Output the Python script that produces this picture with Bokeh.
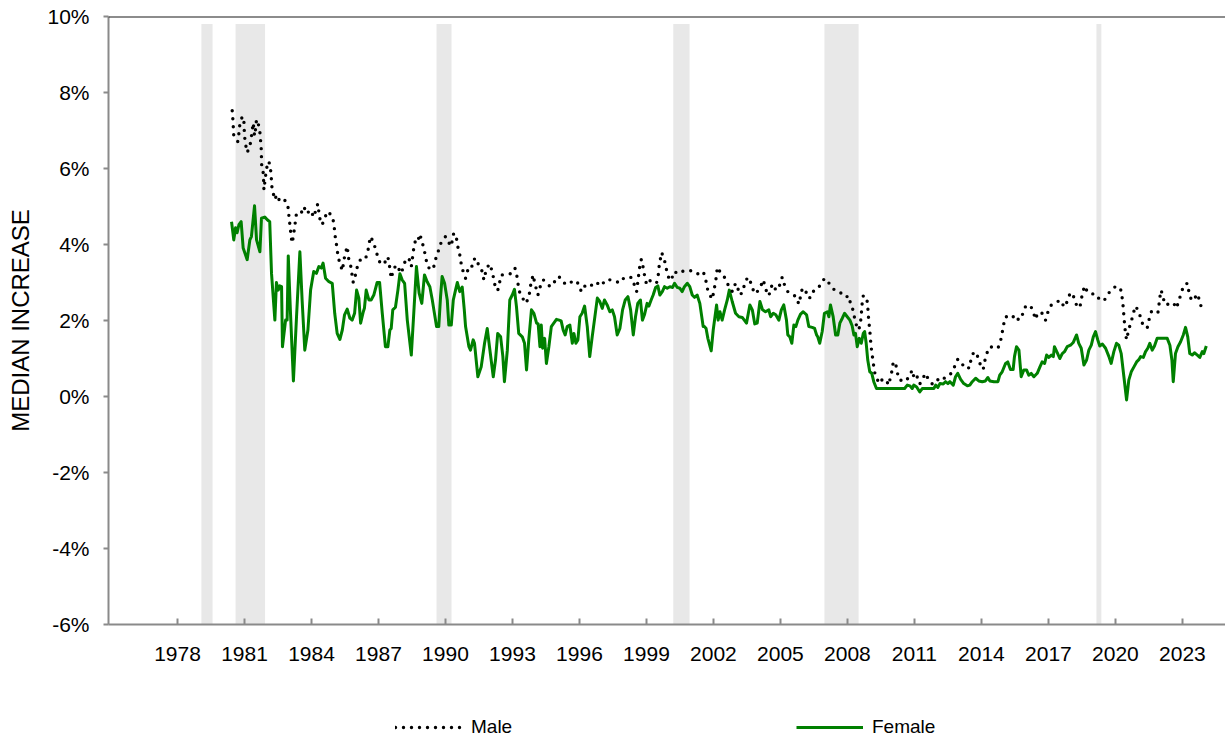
from bokeh.plotting import figure
from bokeh.layouts import column
from bokeh.models import (Legend, LegendItem, FixedTicker, PrintfTickFormatter, Span, Range1d)
from bokeh.embed import file_html
from bokeh.resources import INLINE

# ---- data ----
year_ticks = [1978, 1981, 1984, 1987, 1990, 1993, 1996, 1999, 2002, 2005, 2008, 2011, 2014, 2017, 2020, 2023]
pct_ticks = [-6, -4, -2, 0, 2, 4, 6, 8, 10]

rec_start = [1979.07, 1980.60, 1989.60, 2000.20, 2006.97, 2019.15]
rec_end = [1979.57, 1981.92, 1990.27, 2000.93, 2008.50, 2019.37]

male_year = [1980.45, 1980.48, 1980.52, 1980.70, 1980.75, 1980.79, 1980.90, 1980.97, 1981.00, 1981.05,
             1981.12, 1981.24, 1981.30, 1981.35, 1981.39, 1981.45, 1981.49, 1981.54, 1981.61, 1981.69,
             1981.72, 1981.75, 1981.76, 1981.77, 1981.84, 1981.86, 1981.87, 1981.94, 1981.99, 1982.09,
             1982.16, 1982.20, 1982.21, 1982.29, 1982.34, 1982.46, 1982.58, 1982.76, 1982.88, 1982.98,
             1982.99, 1983.06, 1983.07, 1983.14, 1983.24, 1983.33, 1983.54, 1983.66, 1983.78, 1983.96,
             1984.10, 1984.28, 1984.37, 1984.48, 1984.58, 1984.73, 1984.93, 1985.00, 1985.08, 1985.15,
             1985.18, 1985.27, 1985.38, 1985.48, 1985.60, 1985.67, 1985.75, 1985.87, 1985.97, 1986.07,
             1986.20, 1986.37, 1986.50, 1986.57, 1986.64, 1986.79, 1986.87, 1986.97, 1987.09, 1987.27,
             1987.42, 1987.51, 1987.57, 1987.69, 1987.84, 1987.99, 1988.11, 1988.21, 1988.36, 1988.47,
             1988.58, 1988.66, 1988.76, 1988.85, 1988.96, 1989.03, 1989.11, 1989.18, 1989.30, 1989.45,
             1989.55, 1989.66, 1989.78, 1989.90, 1990.00, 1990.08, 1990.23, 1990.30, 1990.37, 1990.49,
             1990.55, 1990.64, 1990.70, 1990.79, 1990.90, 1991.00, 1991.15, 1991.24, 1991.39, 1991.49,
             1991.65, 1991.72, 1991.84, 1991.99, 1992.09, 1992.17, 1992.24, 1992.34, 1992.43, 1992.50,
             1992.69, 1992.91, 1993.11, 1993.18, 1993.24, 1993.28, 1993.44, 1993.58, 1993.73, 1993.78,
             1993.84, 1993.93, 1993.99, 1994.08, 1994.14, 1994.23, 1994.38, 1994.52, 1994.70, 1994.88,
             1995.00, 1995.08, 1995.27, 1995.48, 1995.72, 1995.90, 1996.02, 1996.12, 1996.27, 1996.50,
             1996.72, 1996.97, 1997.17, 1997.39, 1997.57, 1997.76, 1997.91, 1998.06, 1998.29, 1998.41,
             1998.47, 1998.56, 1998.61, 1998.66, 1998.70, 1998.77, 1998.86, 1998.91, 1999.00, 1999.11,
             1999.26, 1999.45, 1999.53, 1999.57, 1999.63, 1999.68, 1999.81, 1999.90, 1999.99, 2000.11,
             2000.23, 2000.45, 2000.67, 2000.90, 2001.08, 2001.30, 2001.54, 2001.65, 2001.72, 2001.84,
             2001.95, 2002.02, 2002.09, 2002.14, 2002.17, 2002.32, 2002.44, 2002.59, 2002.73, 2002.85,
             2002.99, 2003.09, 2003.18, 2003.33, 2003.39, 2003.54, 2003.63, 2003.74, 2003.88, 2004.08,
             2004.23, 2004.29, 2004.38, 2004.48, 2004.59, 2004.68, 2004.79, 2004.93, 2005.00, 2005.08,
             2005.18, 2005.33, 2005.53, 2005.72, 2005.82, 2005.90, 2005.98, 2006.12, 2006.23, 2006.38,
             2006.50, 2006.67, 2006.83, 2006.97, 2007.21, 2007.42, 2007.69, 2007.91, 2008.06, 2008.14,
             2008.26, 2008.32, 2008.41, 2008.51, 2008.59, 2008.63, 2008.66, 2008.71, 2008.86, 2008.91,
             2008.93, 2008.96, 2009.00, 2009.03, 2009.06, 2009.11, 2009.16, 2009.21, 2009.33, 2009.45,
             2009.56, 2009.71, 2009.85, 2009.93, 2010.01, 2010.05, 2010.15, 2010.23, 2010.30, 2010.56,
             2010.75, 2010.90, 2011.00, 2011.12, 2011.24, 2011.35, 2011.50, 2011.64, 2011.80, 2011.95,
             2012.11, 2012.29, 2012.47, 2012.59, 2012.84, 2012.94, 2013.14, 2013.33, 2013.44, 2013.54,
             2013.66, 2013.81, 2013.93, 2014.08, 2014.14, 2014.23, 2014.38, 2014.56, 2014.74, 2014.86,
             2014.93, 2015.00, 2015.08, 2015.23, 2015.38, 2015.48, 2015.68, 2015.87, 2015.98, 2016.12,
             2016.23, 2016.32, 2016.42, 2016.53, 2016.65, 2016.77, 2016.87, 2016.97, 2017.13, 2017.36,
             2017.51, 2017.72, 2017.84, 2017.96, 2018.06, 2018.17, 2018.29, 2018.41, 2018.52, 2018.62,
             2018.74, 2018.89, 2019.11, 2019.33, 2019.51, 2019.63, 2019.78, 2019.90, 2020.05, 2020.26,
             2020.31, 2020.35, 2020.38, 2020.41, 2020.45, 2020.50, 2020.60, 2020.71, 2020.80, 2020.90,
             2021.05, 2021.16, 2021.27, 2021.43, 2021.50, 2021.61, 2021.80, 2021.90, 2021.95, 2021.99,
             2022.05, 2022.14, 2022.24, 2022.44, 2022.59, 2022.74, 2022.84, 2022.95, 2023.04, 2023.22,
             2023.29, 2023.40, 2023.54, 2023.63, 2023.78, 2023.84]
male_val = [7.52, 7.29, 6.86, 6.71, 6.93, 7.15, 7.37, 7.29, 6.86, 6.63,
            6.42, 6.58, 6.80, 7.02, 7.20, 6.86, 7.02, 7.29, 7.20, 6.95,
            6.74, 6.51, 6.30, 6.10, 5.88, 5.62, 5.44, 5.79, 6.01, 6.19,
            6.01, 5.79, 5.57, 5.35, 5.18, 5.31, 5.13, 5.18, 5.13, 4.91,
            4.69, 4.43, 4.25, 4.04, 4.43, 4.83, 4.83, 5.00, 4.81, 4.91,
            4.72, 5.07, 4.69, 4.52, 4.69, 4.87, 4.74, 4.56, 4.12, 3.90,
            3.70, 3.51, 3.31, 3.68, 3.95, 3.61, 3.46, 3.00, 3.20, 3.46,
            3.61, 3.60, 3.73, 3.99, 4.21, 4.05, 3.86, 3.68, 3.48, 3.51,
            3.68, 3.38, 3.11, 3.38, 3.46, 3.24, 3.38, 3.60, 3.64, 3.42,
            3.90, 4.12, 4.08, 4.28, 4.05, 3.90, 3.68, 3.46, 3.35, 3.35,
            3.60, 3.79, 4.02, 4.12, 4.21, 4.14, 3.95, 4.08, 4.30, 4.17,
            3.95, 3.73, 3.51, 3.29, 3.11, 3.33, 3.33, 3.60, 3.64, 3.44,
            3.29, 3.07, 3.38, 3.49, 3.29, 3.07, 2.85, 2.79, 3.02, 3.20,
            3.20, 3.23, 3.38, 3.23, 3.02, 2.80, 2.61, 2.45, 2.59, 2.80,
            3.02, 3.20, 3.00, 2.80, 2.67, 2.87, 3.07, 2.98, 2.89, 3.02,
            3.07, 3.16, 3.00, 2.94, 3.05, 3.02, 2.82, 2.76, 2.94, 2.91,
            3.02, 2.91, 3.07, 3.07, 3.05, 3.00, 3.11, 3.09, 3.14, 3.07,
            2.89, 2.76, 3.00, 3.24, 3.42, 3.61, 3.38, 3.20, 2.96, 3.07,
            3.00, 2.98, 3.20, 3.44, 3.64, 3.79, 3.58, 3.33, 3.14, 3.05,
            3.29, 3.23, 3.31, 3.31, 3.31, 3.23, 3.29, 3.09, 2.85, 2.67,
            2.56, 2.79, 3.00, 3.20, 3.40, 3.26, 3.20, 3.02, 2.85, 2.76,
            2.98, 2.85, 2.67, 2.76, 2.98, 3.14, 3.07, 2.85, 2.70, 2.85,
            3.07, 2.94, 2.76, 2.65, 2.89, 2.96, 2.80, 2.85, 3.02, 3.14,
            2.94, 2.76, 2.70, 2.61, 2.43, 2.63, 2.85, 2.80, 2.59, 2.61,
            2.80, 2.85, 2.96, 3.11, 2.96, 2.80, 2.73, 2.61, 2.65, 2.44,
            2.26, 2.06, 1.86, 1.75, 1.97, 2.23, 2.45, 2.65, 2.61, 2.38,
            2.17, 1.97, 1.75, 1.53, 1.31, 1.09, 0.87, 0.65, 0.45, 0.34,
            0.45, 0.45, 0.30, 0.52, 0.71, 0.91, 0.89, 0.65, 0.45, 0.39,
            0.50, 0.70, 0.45, 0.52, 0.33, 0.45, 0.61, 0.43, 0.33, 0.34,
            0.50, 0.47, 0.52, 0.56, 0.83, 0.98, 0.83, 0.85, 0.74, 0.98,
            1.18, 1.09, 0.87, 0.71, 0.91, 1.12, 1.31, 1.29, 1.27, 1.47,
            1.68, 1.91, 2.10, 2.10, 2.06, 2.15, 2.01, 2.19, 2.38, 2.41,
            2.35, 2.23, 2.03, 2.21, 2.21, 2.17, 2.01, 2.21, 2.41, 2.47,
            2.54, 2.35, 2.50, 2.70, 2.73, 2.56, 2.35, 2.35, 2.70, 2.91,
            2.76, 2.70, 2.70, 2.52, 2.54, 2.65, 2.79, 2.85, 2.91, 2.79,
            2.56, 2.35, 2.12, 1.91, 1.68, 1.49, 1.77, 1.97, 2.19, 2.38,
            2.23, 2.01, 1.82, 1.82, 2.01, 2.23, 2.19, 2.19, 2.41, 2.61,
            2.80, 2.59, 2.41, 2.44, 2.47, 2.32, 2.54, 2.70, 2.91, 2.98,
            2.76, 2.54, 2.54, 2.70, 2.54, 2.35]

female_year = [1980.42, 1980.52, 1980.60, 1980.67, 1980.75, 1980.85, 1980.94, 1981.12, 1981.24, 1981.31,
               1981.45, 1981.54, 1981.69, 1981.76, 1981.91, 1982.02, 1982.13, 1982.21, 1982.36, 1982.43,
               1982.51, 1982.58, 1982.66, 1982.70, 1982.84, 1982.91, 1982.96, 1983.06, 1983.19, 1983.33,
               1983.48, 1983.58, 1983.70, 1983.84, 1983.96, 1984.10, 1984.22, 1984.33, 1984.44, 1984.52,
               1984.63, 1984.78, 1984.93, 1985.04, 1985.15, 1985.27, 1985.38, 1985.48, 1985.60, 1985.72,
               1985.82, 1985.93, 1986.02, 1986.12, 1986.20, 1986.32, 1986.37, 1986.45, 1986.57, 1986.67,
               1986.79, 1986.94, 1987.05, 1987.17, 1987.31, 1987.42, 1987.51, 1987.57, 1987.64, 1987.76,
               1987.87, 1987.96, 1988.06, 1988.17, 1988.29, 1988.47, 1988.58, 1988.70, 1988.82, 1988.94,
               1989.06, 1989.18, 1989.30, 1989.41, 1989.48, 1989.60, 1989.70, 1989.78, 1989.85, 1989.96,
               1990.08, 1990.15, 1990.26, 1990.35, 1990.45, 1990.53, 1990.64, 1990.75, 1990.84, 1990.90,
               1991.05, 1991.12, 1991.24, 1991.30, 1991.45, 1991.60, 1991.75, 1991.87, 1991.99, 1992.14,
               1992.24, 1992.34, 1992.47, 1992.57, 1992.64, 1992.77, 1992.88, 1992.99, 1993.09, 1993.18,
               1993.28, 1993.44, 1993.54, 1993.63, 1993.73, 1993.85, 1993.96, 1994.08, 1994.15, 1994.23,
               1994.29, 1994.35, 1994.44, 1994.52, 1994.63, 1994.74, 1994.85, 1994.97, 1995.09, 1995.18,
               1995.27, 1995.36, 1995.45, 1995.57, 1995.68, 1995.75, 1995.84, 1995.93, 1996.02, 1996.12,
               1996.23, 1996.35, 1996.46, 1996.57, 1996.67, 1996.80, 1996.91, 1997.02, 1997.12, 1997.24,
               1997.36, 1997.47, 1997.57, 1997.69, 1997.81, 1997.93, 1998.05, 1998.17, 1998.29, 1998.41,
               1998.51, 1998.61, 1998.73, 1998.82, 1998.91, 1999.03, 1999.11, 1999.21, 1999.30, 1999.41,
               1999.51, 1999.60, 1999.71, 1999.81, 1999.93, 2000.05, 2000.17, 2000.26, 2000.38, 2000.49,
               2000.60, 2000.70, 2000.83, 2000.94, 2001.05, 2001.15, 2001.27, 2001.39, 2001.54, 2001.60,
               2001.67, 2001.75, 2001.90, 2001.99, 2002.14, 2002.21, 2002.29, 2002.39, 2002.50, 2002.62,
               2002.71, 2002.84, 2002.99, 2003.14, 2003.29, 2003.48, 2003.63, 2003.74, 2003.85, 2003.96,
               2004.08, 2004.20, 2004.33, 2004.48, 2004.56, 2004.68, 2004.79, 2004.93, 2005.04, 2005.15,
               2005.27, 2005.33, 2005.42, 2005.51, 2005.60, 2005.69, 2005.78, 2005.90, 2006.02, 2006.17,
               2006.27, 2006.42, 2006.53, 2006.62, 2006.67, 2006.76, 2006.87, 2006.97, 2007.10, 2007.17,
               2007.24, 2007.36, 2007.47, 2007.57, 2007.66, 2007.77, 2007.87, 2007.99, 2008.11, 2008.21,
               2008.29, 2008.36, 2008.44, 2008.53, 2008.62, 2008.71, 2008.77, 2008.84, 2008.91, 2009.00,
               2009.09, 2009.18, 2009.30, 2009.48, 2009.71, 2009.93, 2010.15, 2010.38, 2010.56, 2010.68,
               2010.80, 2010.90, 2010.97, 2011.10, 2011.24, 2011.35, 2011.54, 2011.72, 2011.87, 2011.95,
               2012.05, 2012.14, 2012.29, 2012.39, 2012.50, 2012.59, 2012.74, 2012.84, 2012.94, 2013.07,
               2013.21, 2013.37, 2013.48, 2013.59, 2013.74, 2013.88, 2014.04, 2014.18, 2014.29, 2014.38,
               2014.56, 2014.74, 2014.82, 2014.93, 2015.08, 2015.18, 2015.30, 2015.42, 2015.48, 2015.57,
               2015.68, 2015.78, 2015.90, 2016.02, 2016.12, 2016.23, 2016.35, 2016.50, 2016.62, 2016.72,
               2016.83, 2016.92, 2017.02, 2017.13, 2017.22, 2017.27, 2017.40, 2017.51, 2017.62, 2017.72,
               2017.84, 2017.99, 2018.11, 2018.26, 2018.36, 2018.47, 2018.59, 2018.71, 2018.81, 2018.92,
               2019.01, 2019.11, 2019.21, 2019.30, 2019.42, 2019.56, 2019.71, 2019.81, 2019.93, 2020.05,
               2020.15, 2020.26, 2020.38, 2020.50, 2020.60, 2020.71, 2020.83, 2020.95, 2021.05, 2021.13,
               2021.25, 2021.35, 2021.45, 2021.54, 2021.65, 2021.75, 2021.87, 2022.10, 2022.32, 2022.44,
               2022.53, 2022.59, 2022.69, 2022.80, 2022.92, 2023.04, 2023.14, 2023.24, 2023.33, 2023.44,
               2023.54, 2023.67, 2023.78, 2023.89, 2023.96, 2024.07]
female_val = [4.60, 4.12, 4.44, 4.31, 4.52, 4.60, 3.91, 3.60, 4.12, 4.21,
              5.02, 4.12, 3.81, 4.69, 4.72, 4.65, 4.60, 3.24, 2.01, 3.00,
              2.80, 2.91, 2.89, 1.31, 2.01, 2.01, 3.70, 2.19, 0.41, 2.10,
              3.81, 2.54, 1.22, 1.75, 2.80, 3.29, 3.24, 3.42, 3.38, 3.51,
              3.11, 3.02, 2.98, 2.19, 1.66, 1.50, 1.75, 2.15, 2.30, 2.06,
              2.01, 2.19, 2.80, 2.59, 1.93, 2.23, 2.32, 2.80, 2.54, 2.54,
              2.67, 3.00, 3.00, 2.19, 1.31, 1.31, 1.75, 1.79, 2.28, 2.35,
              2.80, 3.23, 3.07, 2.98, 2.01, 1.09, 2.19, 3.42, 2.72, 2.45,
              3.20, 3.02, 2.89, 2.54, 2.28, 1.84, 1.84, 2.63, 3.16, 2.98,
              2.54, 1.88, 1.88, 2.54, 2.80, 3.00, 2.76, 2.88, 2.30, 1.84,
              1.31, 1.22, 1.49, 1.40, 0.52, 0.78, 1.40, 1.79, 1.22, 0.52,
              0.96, 1.66, 1.57, 1.05, 0.39, 1.22, 2.54, 2.67, 2.82, 2.36,
              1.66, 1.57, 1.40, 0.70, 1.49, 2.28, 2.19, 1.93, 1.91, 1.31,
              1.88, 1.27, 1.53, 0.87, 1.31, 1.84, 1.93, 2.03, 2.01, 1.99,
              1.75, 1.62, 1.84, 1.88, 1.40, 1.66, 1.40, 1.49, 2.10, 2.19,
              2.38, 1.84, 1.05, 1.57, 2.01, 2.59, 2.50, 2.32, 2.54, 2.41,
              2.23, 2.28, 2.10, 1.62, 1.79, 2.28, 2.54, 2.63, 2.28, 1.62,
              2.10, 2.45, 2.54, 2.01, 2.15, 2.45, 2.38, 2.54, 2.67, 2.87,
              2.91, 2.67, 2.76, 2.89, 2.85, 2.89, 2.87, 2.98, 2.87, 2.85,
              2.76, 2.89, 2.98, 2.89, 2.67, 2.61, 2.67, 2.45, 1.84, 1.84,
              1.79, 1.53, 1.20, 1.75, 2.41, 2.01, 2.23, 2.01, 2.28, 2.54,
              2.80, 2.50, 2.19, 2.10, 2.08, 1.93, 2.41, 2.28, 1.91, 1.93,
              2.50, 2.28, 2.23, 2.28, 2.10, 2.19, 2.15, 2.01, 2.28, 2.41,
              2.01, 1.62, 1.57, 1.40, 1.88, 1.84, 2.01, 2.17, 2.23, 2.15,
              1.84, 1.82, 1.79, 1.62, 1.57, 1.40, 1.71, 2.19, 2.23, 2.10,
              2.41, 2.10, 1.62, 1.62, 1.93, 2.06, 2.19, 2.10, 2.01, 1.86,
              1.62, 1.66, 1.31, 1.53, 1.40, 1.66, 1.71, 1.40, 0.96, 0.65,
              0.61, 0.39, 0.21, 0.21, 0.21, 0.21, 0.21, 0.21, 0.21, 0.30,
              0.28, 0.21, 0.30, 0.25, 0.12, 0.21, 0.21, 0.21, 0.21, 0.30,
              0.24, 0.34, 0.33, 0.39, 0.34, 0.39, 0.30, 0.52, 0.61, 0.45,
              0.34, 0.28, 0.30, 0.39, 0.48, 0.41, 0.39, 0.41, 0.50, 0.41,
              0.39, 0.39, 0.56, 0.65, 0.87, 0.91, 0.71, 0.71, 1.05, 1.31,
              1.22, 0.52, 0.70, 0.70, 0.56, 0.61, 0.52, 0.61, 0.78, 0.91,
              0.87, 1.09, 1.03, 1.09, 1.05, 1.31, 1.15, 1.00, 1.13, 1.18,
              1.31, 1.35, 1.42, 1.62, 1.40, 1.27, 0.83, 0.96, 1.22, 1.35,
              1.57, 1.71, 1.49, 1.33, 1.38, 1.27, 1.05, 0.87, 1.18, 1.40,
              1.35, 1.13, 0.52, -0.09, 0.43, 0.65, 0.78, 0.91, 0.97, 1.05,
              1.03, 1.18, 1.27, 1.40, 1.22, 1.33, 1.53, 1.53, 1.53, 1.35,
              0.96, 0.39, 1.13, 1.31, 1.44, 1.62, 1.82, 1.57, 1.13, 1.09,
              1.15, 1.09, 1.03, 1.18, 1.13, 1.33]

FONT = "Liberation Sans"
GREEN = "#008000"

p = figure(width=1225, height=700, output_backend="svg", toolbar_location=None,
           x_range=(1974.91, 2024.93), y_range=(-6, 10),
           min_border_left=108, min_border_right=0, min_border_top=16, min_border_bottom=76)
p.outline_line_color = None
p.xgrid.visible = False
p.ygrid.visible = False
p.background_fill_color = "white"

# recession shading
p.quad(left=rec_start, right=rec_end, bottom=-6, top=9.8, fill_color="#e8e8e8", line_color=None)

p.line(female_year, female_val, line_color=GREEN, line_width=3, line_join="round")
p.line(male_year, male_val, line_color="black", line_width=3.4, line_dash="0 8",
       line_cap="round", line_join="round")

# top border line
p.add_layout(Span(location=10, dimension="width", line_color="#1a1a1a", line_width=2))

# axes
p.xaxis.ticker = FixedTicker(ticks=year_ticks)
p.yaxis.ticker = FixedTicker(ticks=pct_ticks)
p.yaxis.formatter = PrintfTickFormatter(format="%d%%")
for ax in (p.xaxis, p.yaxis):
    ax.axis_line_color = "#8a8a8a"
    ax.axis_line_width = 2
    ax.major_tick_line_color = "#8a8a8a"
    ax.major_tick_line_width = 2
    ax.minor_tick_line_color = None
    ax.major_label_text_font = FONT
    ax.major_label_text_font_size = "21px"
    ax.major_label_text_color = "black"
p.xaxis.major_tick_in = 6
p.xaxis.major_tick_out = 0
p.xaxis.major_label_standoff = 22
p.yaxis.major_tick_in = 0
p.yaxis.major_tick_out = 5
p.yaxis.major_label_standoff = 14
p.yaxis.axis_label = "MEDIAN INCREASE"
p.yaxis.axis_label_text_font = FONT
p.yaxis.axis_label_text_font_size = "24px"
p.yaxis.axis_label_text_font_style = "normal"
p.yaxis.axis_label_text_color = "black"
p.yaxis.axis_label_standoff = 10

# legend strip below the chart (same series, ranges chosen so only the legend shows)
lg = figure(width=1225, height=40, output_backend="svg", toolbar_location=None,
            x_range=Range1d(1974.91, 2024.93), y_range=Range1d(100, 101),
            x_axis_type=None, y_axis_type=None,
            min_border_left=0, min_border_right=0, min_border_top=0, min_border_bottom=0)
lg.outline_line_color = None
lg.xgrid.visible = False
lg.ygrid.visible = False
lm = lg.line(male_year, male_val, line_color="black", line_width=3.4, line_dash="0 8",
             line_cap="round")
lf = lg.line(female_year, female_val, line_color=GREEN, line_width=3)
legend = Legend(items=[LegendItem(label="Male", renderers=[lm]),
                       LegendItem(label="Female", renderers=[lf])],
                location=(287, 2), orientation="horizontal",
                glyph_width=67, glyph_height=20, label_standoff=9, label_width=76, spacing=249,
                padding=0, margin=0,
                label_text_font=FONT, label_text_font_size="19px", label_text_color="black",
                border_line_color=None, background_fill_alpha=0)
lg.add_layout(legend)

layout = column(p, lg, spacing=0)
open("out.html", "w").write(file_html(layout, INLINE))
